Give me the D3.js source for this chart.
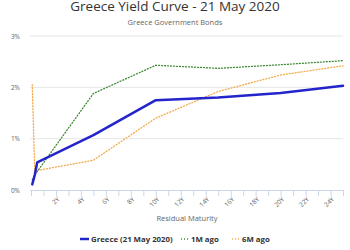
<!DOCTYPE html>
<html>
<head>
<meta charset="utf-8">
<script src="https://cdn.jsdelivr.net/npm/d3@7"></script>
<style>
  body { margin: 0; background: #fff; }
  svg { display: block; font-family: "Open Sans", sans-serif; }
</style>
</head>
<body>
<svg width="350" height="250"></svg>
<script>
'use strict';

var maturities = [0.1, 0.3, 0.5, 5, 10, 15, 20, 25]
var greeceNow = [0.11, 0.29, 0.54, 1.07, 1.75, 1.80, 1.89, 2.03]
var oneMonthAgo = [0.2, 0.28, 0.36, 1.88, 2.43, 2.37, 2.44, 2.52]
var sixMonthsAgo = [2.05, 0.36, 0.38, 0.58, 1.40, 1.92, 2.24, 2.42]
var xTickValues = [2, 4, 6, 8, 10, 12, 14, 16, 18, 20, 22, 24]
var yTickValues = [0, 1, 2, 3]

var series = [
    { name: 'Greece (21 May 2020)', values: greeceNow, color: '#2424cc', width: 2.5, dash: null },
    { name: '1M ago', values: oneMonthAgo, color: '#3f8a36', width: 1.3, dash: '1,2' },
    { name: '6M ago', values: sixMonthsAgo, color: '#f2a94a', width: 1.3, dash: '1,2' }
]

var svg = d3.select('svg')

var x = d3.scaleLinear().domain([0, 25]).range([31, 343])
var y = d3.scaleLinear().domain([0, 3]).range([190, 36])

// title + subtitle
svg.append('text')
    .attr('x', 175).attr('y', 11)
    .attr('text-anchor', 'middle')
    .attr('font-size', 13.5)
    .attr('fill', '#333')
    .text('Greece Yield Curve - 21 May 2020')

svg.append('text')
    .attr('x', 175).attr('y', 25)
    .attr('text-anchor', 'middle')
    .attr('font-size', 7.5)
    .attr('fill', '#666')
    .text('Greece Government Bonds')

// grid lines
svg.append('g')
    .selectAll('line')
    .data(yTickValues.filter(function (d) { return d > 0 }))
    .join('line')
    .attr('x1', 30).attr('x2', 343)
    .attr('y1', function (d) { return y(d) }).attr('y2', function (d) { return y(d) })
    .attr('stroke', '#e6e6e6')
    .attr('stroke-width', 1)

// y axis labels
var yAxis = svg.append('g')
    .attr('transform', 'translate(30,0)')
    .call(d3.axisLeft(y).tickValues(yTickValues).tickSize(0).tickPadding(10)
        .tickFormat(function (d) { return d + '%' }))
yAxis.select('.domain').remove()
yAxis.selectAll('text')
    .attr('font-family', '"Open Sans", sans-serif')
    .attr('font-size', 6.5)
    .attr('fill', '#666')

// x axis
var xAxis = svg.append('g')
    .attr('transform', 'translate(0,' + y(0) + ')')
    .call(d3.axisBottom(x).tickValues(d3.range(0, 26)).tickSize(6)
        .tickFormat(function (d) { return xTickValues.indexOf(d) >= 0 ? d + 'Y' : '' }))
xAxis.select('.domain')
    .attr('stroke', '#ccd6eb')
    .attr('d', 'M30,0.5H343')
xAxis.selectAll('.tick line').attr('stroke', '#ccd6eb')
xAxis.selectAll('text')
    .attr('font-family', '"Open Sans", sans-serif')
    .attr('font-size', 6.5)
    .attr('fill', '#666')
    .attr('text-anchor', 'end')
    .attr('x', 0).attr('y', 0).attr('dy', '0.35em')
    .attr('transform', 'translate(2,8) rotate(-45)')

svg.append('text')
    .attr('x', (x(0) + x(25)) / 2).attr('y', 221)
    .attr('text-anchor', 'middle')
    .attr('font-size', 7.5)
    .attr('fill', '#666')
    .text('Residual Maturity')

// lines
var line = d3.line()
    .x(function (d, i) { return x(maturities[i]) })
    .y(function (d) { return y(d) })

svg.append('g')
    .selectAll('path')
    .data(series.slice().reverse())
    .join('path')
    .attr('fill', 'none')
    .attr('stroke', function (d) { return d.color })
    .attr('stroke-width', function (d) { return d.width })
    .attr('stroke-dasharray', function (d) { return d.dash })
    .attr('stroke-linejoin', 'round')
    .attr('stroke-linecap', 'round')
    .attr('d', function (d) { return line(d.values) })

// legend
var legendX = [80, 181, 232]
var legend = svg.append('g')
    .selectAll('g')
    .data(series)
    .join('g')
    .attr('transform', function (d, i) { return 'translate(' + legendX[i] + ',239)' })

legend.append('line')
    .attr('x1', 0).attr('x2', function (d, i) { return i === 0 ? 9 : 7 })
    .attr('stroke', function (d) { return d.color })
    .attr('stroke-width', function (d) { return d.width })
    .attr('stroke-dasharray', function (d) { return d.dash })

legend.append('text')
    .attr('x', function (d, i) { return i === 0 ? 11 : 10 })
    .attr('y', 2.5)
    .attr('font-size', 7.8)
    .attr('font-weight', 'bold')
    .attr('fill', '#333')
    .text(function (d) { return d.name })
</script>
</body>
</html>
